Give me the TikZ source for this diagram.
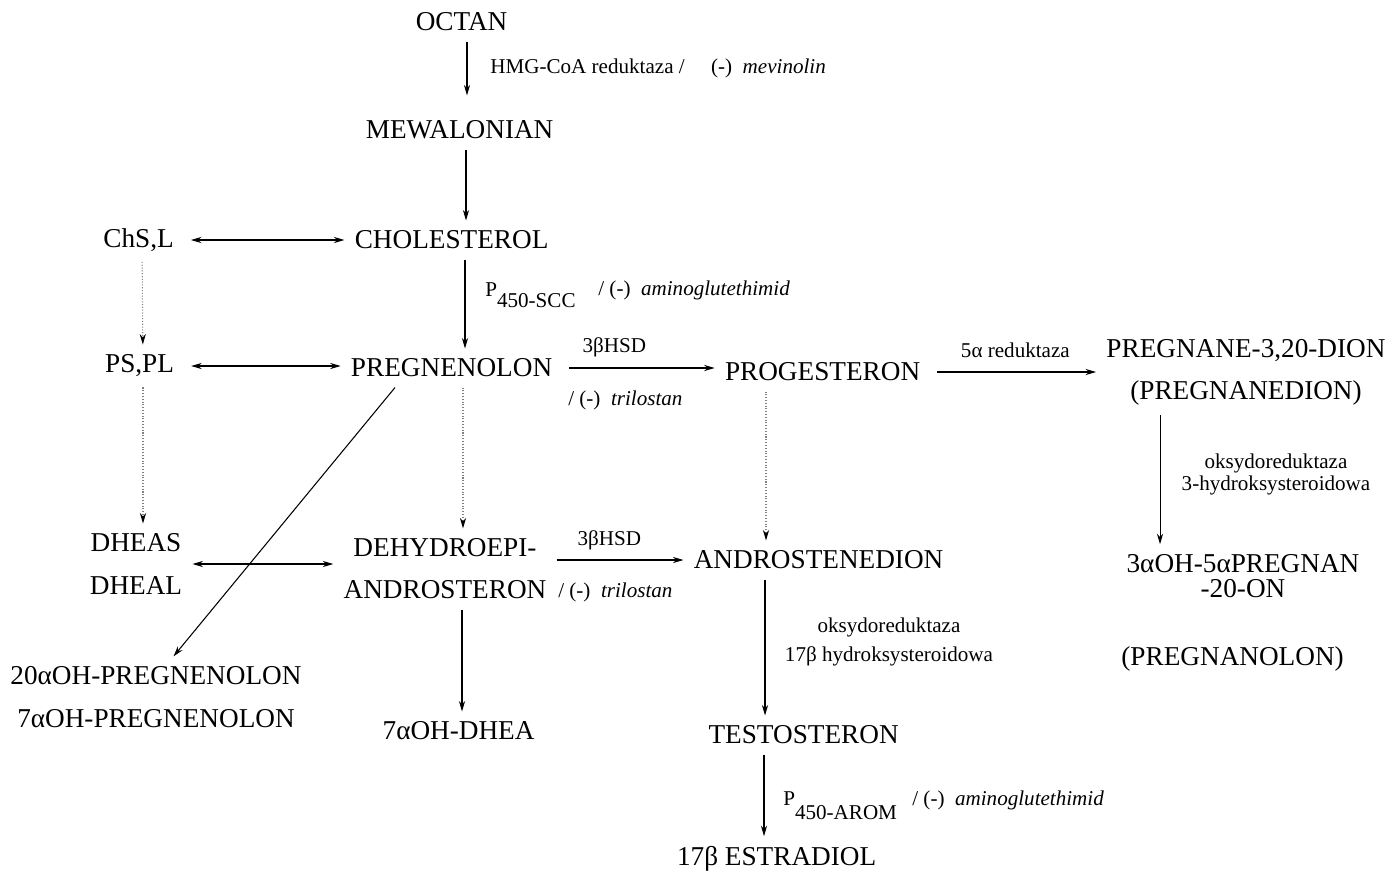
\documentclass[tikz,border=0pt]{standalone}
\usepackage{fontspec}
\setmainfont{Liberation Serif}
\usetikzlibrary{positioning, arrows.meta}

\begin{document}
\begin{tikzpicture}[x = 0.02cm, y = -0.02cm,
    every node/.style = { align = center, inner sep = 0.2cm, font = \fontsize{15.5}{24}\selectfont },
    lbl/.style = { inner sep = 0pt, font = \fontsize{12}{14}\selectfont },
    arr/.style = { -{Stealth[length = 6pt, width = 3.5pt]}, line width = 0.6pt },
    both/.style = { {Stealth[length = 6pt, width = 3.5pt]}-{Stealth[length = 6pt, width = 3.5pt]}, line width = 0.6pt },
    dots/.style = { -{Stealth[length = 6pt, width = 3.5pt, black]}, densely dotted, gray, line width = 0.6pt }]
  \useasboundingbox (0,0) rectangle (1392,873);

  \node (oct)   at (465,22)   { OCTAN };
  \node (mew)   at (463,130)  { MEWALONIAN };
  \node (chol)  at (455,240)  { CHOLESTEROL };
  \node (chs)   at (142,240)  { ChS,L };
  \node (pspl)  at (143,366)  { PS,PL };
  \node (preg)  at (455,368)  { PREGNENOLON };
  \node (prog)  at (826,372)  { PROGESTERON };
  \node (pdion) at (1246,372) { PREGNANE-3,20-DION \\ (PREGNANEDION) };
  \node (dheas) at (136,564)  { DHEAS \\ DHEAL };
  \node (dhea)  at (445,569)  { DEHYDROEPI- \\ ANDROSTERON };
  \node (andro) at (822,560)  { ANDROSTENEDION };
  \node (pnan)  at (1243,576) { 3αOH-5αPREGNAN \\[-10pt] -20-ON };
  \node (pnol)  at (1236,659) { (PREGNANOLON) };
  \node (p20)   at (156,697)  { 20αOH-PREGNENOLON \\ 7αOH-PREGNENOLON };
  \node (oh7)   at (462,731)  { 7αOH-DHEA };
  \node (testo) at (807,735)  { TESTOSTERON };
  \node (estr)  at (780,859)  { 17β ESTRADIOL };

  % enzymes and inhibitors
  \node [lbl, anchor = west] (hmg) at (490,68) { HMG-CoA reduktaza /\quad\ (-)\ \ \textit{mevinolin} };
  \node [lbl, anchor = base west] (scc) at (485,296) { P\raisebox{-6.5pt}{450-SCC} };
  \node [lbl, anchor = base west] (ag1) at (598,295) { / (-)\ \ \textit{aminoglutethimid} };
  \node [lbl] (hsd1) at (617,347) { 3βHSD };
  \node [lbl] (tri1) at (628,400) { / (-)\ \ \textit{trilostan} };
  \node [lbl] (red5) at (1018,350) { 5α reduktaza };
  \node [lbl, font = \fontsize{12}{12.5}\selectfont] (oxr3) at (1276,474) { oksydoreduktaza \\ 3-hydroksysteroidowa };
  \node [lbl] (hsd2) at (612,540) { 3βHSD };
  \node [lbl] (tri2) at (618,592) { / (-)\ \ \textit{trilostan} };
  \node [lbl] (oxr17) at (889,642) { oksydoreduktaza \\[3pt] 17β hydroksysteroidowa };
  \node [lbl, anchor = base west] (arom) at (783,805) { P\raisebox{-8.5pt}{450-AROM} };
  \node [lbl, anchor = base west] (ag2) at (912,805) { / (-)\ \ \textit{aminoglutethimid} };

  \coordinate (pa) at ([xshift = -1.2cm]prog.south);
  \coordinate (at) at ([xshift = -1.14cm]andro.south);
  \coordinate (te) at ([xshift = -0.86cm]testo.south);
  \coordinate (pd) at ([xshift = -1.72cm]pdion.south);

  \draw [arr, shorten > = 0.3cm] ([xshift = .04cm]oct.south) -- ([xshift = .04cm]oct.south |- mew.north);
  \draw [arr] ([xshift = .06cm]mew.south) -- ([xshift = .06cm]mew.south |- chol.north);
  \draw [arr] ([xshift = .2cm]chol.south) -- ([xshift = .2cm]preg.north);
  \draw [both] (chs) -- (chol);
  \draw [both] (pspl) -- (pspl -| preg.west);
  \draw [dots] (chs) -- (pspl);
  \draw [dots] (pspl.south) -- (pspl.south |- dheas.north);
  \draw [dots] ([xshift = .16cm]preg.south) -- ([xshift = .16cm]preg.south |- dhea.north);
  \draw [arr] (preg) -- (preg -| prog.west);
  \draw [arr] (prog) -- (pdion);
  \draw [dots] (pa) -- (pa |- andro.north);
  \draw [arr] (pd) -- (pd |- pnan.north);
  \draw [both] (dheas.east) -- (dheas.east -| dhea.west);
  \draw [arr] (dhea.east |- andro) -- (andro);
  \draw [arr] ([xshift = -1.2cm]preg.south) -- ([xshift = .35cm]p20.north);
  \draw [arr] (oh7 |- dhea.south) -- (oh7);
  \draw [arr] (at) -- (at |- testo.north);
  \draw [arr] (te) -- (te |- estr.north);
\end{tikzpicture}
\end{document}
